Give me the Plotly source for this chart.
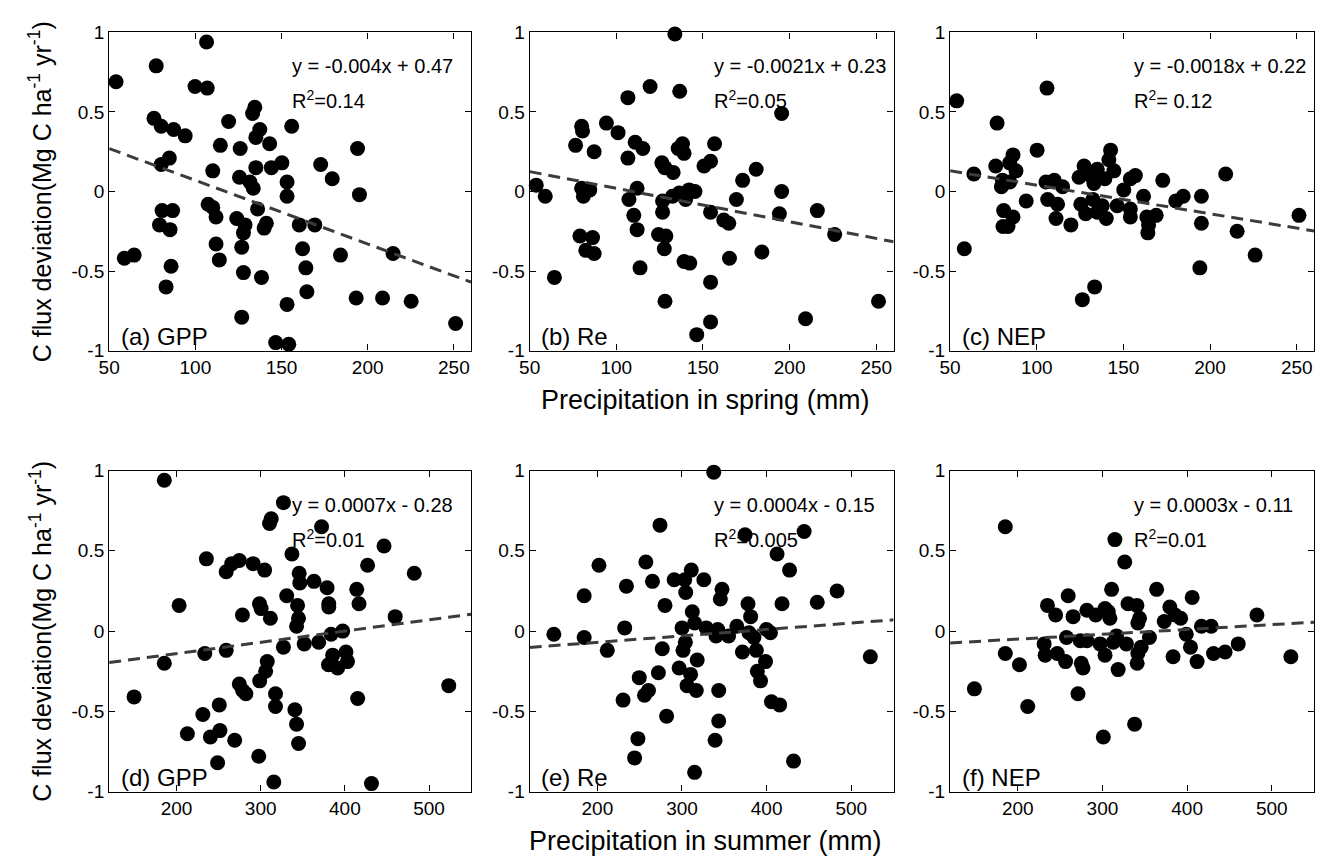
import plotly.graph_objects as go

# ---------------- data ----------------
spring_gpp_x = [54.0, 77.3, 106.5, 99.8, 106.9, 76.0, 80.2, 87.4, 94.1, 119.3, 134.5, 133.2, 137.4, 135.1, 143.1,
                155.9, 114.5, 126.0, 194.1, 84.9, 80.2, 110.1, 135.1, 144.1, 150.2, 172.7, 179.4, 125.6, 131.7,
                133.6, 153.2, 153.2, 195.2, 107.4, 110.1, 112.0, 136.1, 80.7, 86.8, 79.2, 85.3, 124.0, 128.8,
                127.9, 141.2, 139.9, 160.3, 169.3, 112.0, 113.9, 126.9, 162.2, 164.1, 184.2, 214.7, 58.8, 64.5,
                85.9, 83.0, 127.9, 138.4, 164.7, 153.2, 193.3, 208.6, 225.2, 251.0, 126.9, 146.6, 154.2]
spring_gpp_y = [0.69, 0.79, 0.94, 0.66, 0.65, 0.46, 0.41, 0.39, 0.35, 0.44, 0.53, 0.49, 0.39, 0.34, 0.30,
                0.41, 0.29, 0.27, 0.27, 0.21, 0.17, 0.13, 0.15, 0.15, 0.18, 0.17, 0.08, 0.09, 0.06,
                0.02, 0.06, -0.03, -0.02, -0.08, -0.10, -0.16, -0.11, -0.12, -0.12, -0.21, -0.24, -0.17, -0.21,
                -0.26, -0.20, -0.23, -0.21, -0.21, -0.33, -0.43, -0.35, -0.36, -0.48, -0.40, -0.39, -0.42, -0.40,
                -0.47, -0.60, -0.51, -0.54, -0.63, -0.71, -0.67, -0.67, -0.69, -0.83, -0.79, -0.95, -0.96]

spring_re_x = [133.8, 119.5, 136.6, 106.7, 195.4, 80.0, 80.5, 94.3, 101.0, 76.5, 87.2, 110.9, 115.3, 106.7,
               138.2, 135.7, 139.1, 156.7, 126.3, 128.0, 132.8, 150.6, 154.4, 180.7, 172.9, 53.8, 59.0, 80.0,
               84.7, 81.0, 112.0, 107.3, 126.7, 132.4, 136.3, 142.0, 145.4, 140.0, 195.4, 169.3, 216.0, 154.4,
               194.1, 126.7, 110.1, 162.0, 164.9, 226.0, 112.0, 124.4, 128.6, 127.7, 79.0, 86.3, 82.4, 87.2,
               165.3, 184.0, 139.1, 142.4, 113.7, 64.3, 154.4, 128.1, 251.3, 209.2, 154.4, 146.4]
spring_re_y = [0.99, 0.66, 0.63, 0.59, 0.49, 0.41, 0.38, 0.43, 0.37, 0.29, 0.25, 0.31, 0.27, 0.21,
               0.30, 0.27, 0.24, 0.30, 0.18, 0.15, 0.12, 0.16, 0.19, 0.14, 0.07, 0.04, -0.03, 0.02,
               0.01, -0.03, 0.02, -0.05, -0.06, -0.03, -0.01, 0.01, 0.00, -0.05, 0.00, -0.05, -0.12, -0.13,
               -0.14, -0.13, -0.15, -0.18, -0.20, -0.27, -0.24, -0.27, -0.28, -0.36, -0.28, -0.29, -0.37, -0.39,
               -0.42, -0.38, -0.44, -0.45, -0.48, -0.54, -0.57, -0.69, -0.69, -0.80, -0.82, -0.90]

spring_nep_x = [53.8, 105.9, 77.1, 100.2, 142.6, 141.6, 144.5, 63.7, 76.3, 86.3, 84.4, 88.0, 80.2, 79.6, 84.4,
                105.3, 110.1, 114.9, 127.3, 124.4, 134.9, 131.1, 139.3, 133.0, 156.9, 154.0, 172.7, 209.0,
                150.2, 161.6, 184.5, 180.2, 195.0, 93.9, 106.3, 112.0, 125.4, 132.4, 137.8, 146.4, 154.0,
                128.2, 134.9, 140.1, 154.0, 111.1, 119.7, 80.9, 86.3, 80.5, 83.4, 163.5, 168.9, 164.5, 164.1,
                195.0, 215.6, 251.3, 58.2, 226.0, 194.1, 133.4, 126.3]
spring_nep_y = [0.57, 0.65, 0.43, 0.26, 0.26, 0.20, 0.13, 0.11, 0.16, 0.23, 0.18, 0.13, 0.07, 0.03, 0.06,
                0.06, 0.07, 0.03, 0.16, 0.09, 0.14, 0.10, 0.08, 0.05, 0.10, 0.08, 0.07, 0.11,
                0.01, -0.03, -0.03, -0.06, -0.03, -0.06, -0.05, -0.08, -0.08, -0.05, -0.09, -0.09, -0.11,
                -0.14, -0.13, -0.17, -0.16, -0.17, -0.21, -0.12, -0.16, -0.22, -0.22, -0.16, -0.15, -0.21, -0.26,
                -0.20, -0.25, -0.15, -0.36, -0.40, -0.48, -0.60, -0.68]

summer_gpp_x = [185.5, 327.0, 312.5, 310.5, 372.3, 446.5, 337.1, 235.5, 274.6, 265.6, 259.0, 291.0, 304.7,
                427.0, 482.4, 345.7, 346.5, 363.3, 378.9, 414.1, 416.8, 380.9, 380.9, 330.9, 343.8, 203.1,
                298.6, 300.5, 278.3, 311.5, 344.9, 342.6, 459.8, 383.7, 397.4, 351.7, 368.9, 327.0, 259.0,
                233.6, 185.5, 401.3, 385.5, 380.5, 391.4, 403.1, 307.8, 305.9, 298.8, 274.6, 278.5, 282.4,
                317.6, 317.6, 340.6, 342.6, 345.0, 149.6, 415.2, 523.4, 250.8, 231.3, 212.9, 240.2, 251.6,
                269.1, 297.7, 248.8, 315.6, 431.6]
summer_gpp_y = [0.94, 0.80, 0.70, 0.67, 0.65, 0.53, 0.48, 0.45, 0.44, 0.42, 0.37, 0.42, 0.38,
                0.41, 0.36, 0.36, 0.30, 0.31, 0.27, 0.26, 0.17, 0.17, 0.15, 0.22, 0.16, 0.16,
                0.17, 0.14, 0.10, 0.08, 0.08, 0.03, 0.09, -0.02, 0.00, -0.08, -0.07, -0.10, -0.12,
                -0.14, -0.20, -0.13, -0.15, -0.21, -0.23, -0.19, -0.19, -0.25, -0.31, -0.33, -0.37, -0.39,
                -0.39, -0.47, -0.49, -0.58, -0.70, -0.41, -0.42, -0.34, -0.46, -0.52, -0.64, -0.66, -0.62,
                -0.68, -0.78, -0.82, -0.94, -0.95]

summer_re_x = [337.5, 274.0, 374.5, 444.3, 412.3, 427.1, 201.9, 257.3, 311.0, 265.1, 290.8, 303.2, 304.4,
               325.8, 347.3, 345.3, 234.3, 184.4, 279.9, 312.2, 315.0, 300.1, 328.6, 342.2, 340.2, 355.0,
               364.8, 378.0, 381.1, 379.1, 385.0, 399.8, 404.5, 418.2, 459.8, 483.2, 232.3, 148.6, 184.4,
               211.7, 304.0, 301.2, 276.7, 371.4, 387.8, 398.7, 318.0, 522.5, 296.6, 310.2, 272.1, 249.5,
               389.0, 392.8, 306.0, 316.9, 260.4, 255.7, 343.4, 230.4, 405.7, 415.4, 281.8, 343.4, 247.9,
               339.1, 244.0, 431.8, 314.9]
summer_re_y = [0.99, 0.66, 0.60, 0.62, 0.48, 0.38, 0.41, 0.43, 0.38, 0.31, 0.32, 0.32, 0.24,
               0.32, 0.26, 0.20, 0.28, 0.22, 0.16, 0.12, 0.05, 0.02, 0.02, 0.01, -0.03, -0.03,
               0.03, 0.17, 0.09, -0.01, -0.04, 0.01, -0.01, 0.17, 0.18, 0.25, 0.02, -0.02, -0.04,
               -0.12, -0.07, -0.12, -0.11, -0.13, -0.12, -0.19, -0.18, -0.16, -0.23, -0.27, -0.26, -0.29,
               -0.25, -0.31, -0.34, -0.37, -0.37, -0.40, -0.37, -0.43, -0.44, -0.46, -0.53, -0.56, -0.67,
               -0.68, -0.79, -0.81, -0.88]

summer_nep_x = [185.2, 314.7, 326.3, 310.8, 364.0, 406.0, 259.5, 235.0, 244.7, 265.3, 281.6, 292.1, 303.0,
                306.9, 308.8, 330.2, 340.7, 343.8, 341.8, 379.6, 385.8, 392.4, 373.0, 482.5, 416.9, 428.5,
                399.0, 355.5, 257.5, 273.8, 281.6, 231.1, 297.2, 316.6, 312.7, 328.3, 345.7, 404.0, 460.4,
                444.9, 431.2, 185.2, 201.9, 232.3, 246.6, 256.4, 303.0, 341.8, 341.0, 383.4, 411.8, 522.6,
                275.0, 277.0, 318.5, 148.7, 271.1, 211.7, 338.0, 301.0]
summer_nep_y = [0.65, 0.57, 0.43, 0.26, 0.26, 0.21, 0.22, 0.16, 0.10, 0.09, 0.13, 0.10, 0.14,
                0.12, 0.08, 0.17, 0.16, 0.08, 0.05, 0.15, 0.10, 0.08, 0.06, 0.10, 0.03, 0.03,
                -0.02, -0.04, -0.04, -0.06, -0.06, -0.08, -0.08, -0.03, -0.07, -0.08, -0.10, -0.10, -0.08,
                -0.13, -0.14, -0.14, -0.21, -0.15, -0.14, -0.19, -0.15, -0.14, -0.20, -0.16, -0.19, -0.16,
                -0.20, -0.23, -0.24, -0.36, -0.39, -0.47, -0.58, -0.66]

# regression lines (slope, intercept) and labels as printed on the chart
slopes = [-0.004, -0.0021, -0.0018, 0.0007, 0.0004, 0.0003]
intercepts = [0.47, 0.23, 0.22, -0.28, -0.15, -0.11]
eq_texts = ["y = -0.004x + 0.47", "y = -0.0021x + 0.23", "y = -0.0018x + 0.22",
            "y = 0.0007x - 0.28", "y = 0.0004x - 0.15", "y = 0.0003x - 0.11"]
r2_texts = ["R<sup>2</sup>=0.14", "R<sup>2</sup>=0.05", "R<sup>2</sup>= 0.12",
            "R<sup>2</sup>=0.01", "R<sup>2</sup>=0.005", "R<sup>2</sup>=0.01"]
panel_labels = ["(a) GPP", "(b) Re", "(c) NEP", "(d) GPP", "(e) Re", "(f) NEP"]

spring_ticks = [50, 100, 150, 200, 250]
summer_ticks = [200, 300, 400, 500]
y_ticks = [-1, -0.5, 0, 0.5, 1]
y_ticklabels = ["-1", "-0.5", "0", "0.5", "1"]

xs = [spring_gpp_x, spring_re_x, spring_nep_x, summer_gpp_x, summer_re_x, summer_nep_x]
ys = [spring_gpp_y, spring_re_y, spring_nep_y, summer_gpp_y, summer_re_y, summer_nep_y]

# ---------------- layout geometry ----------------
W, H = 1321, 867
FONT = "Liberation Sans, Arial, Helvetica, sans-serif"
col_px = [(99, 464), (523, 890), (947, 1314)]
row_px = [(23, 349), (472, 801)]
x_ranges = [[50, 260], [120, 550]]

fig = go.Figure()
layout = dict(width=W, height=H, margin=dict(l=0, r=0, t=0, b=0),
              paper_bgcolor="white", plot_bgcolor="white", showlegend=False,
              font=dict(family=FONT, size=19, color="black"))
annotations = []

for i in range(6):
    r, c = divmod(i, 3)
    n = i + 1
    xname = "xaxis" if n == 1 else f"xaxis{n}"
    yname = "yaxis" if n == 1 else f"yaxis{n}"
    xref = "x" if n == 1 else f"x{n}"
    yref = "y" if n == 1 else f"y{n}"
    x0, x1 = col_px[c]
    y0, y1 = row_px[r]
    xr = x_ranges[r]
    common = dict(showline=True, linecolor="black", linewidth=1.2, mirror="ticks",
                  ticks="inside", ticklen=6, tickwidth=1, tickcolor="black",
                  showgrid=False, zeroline=False,
                  tickfont=dict(family=FONT, size=19, color="black"))
    layout[xname] = dict(domain=[x0 / W, x1 / W], range=xr, anchor=yref,
                         tickvals=spring_ticks if r == 0 else summer_ticks, **common)
    layout[yname] = dict(domain=[1 - y1 / H, 1 - y0 / H], range=[-1, 1], anchor=xref,
                         tickvals=y_ticks, ticktext=y_ticklabels, **common)

    fig.add_trace(go.Scatter(x=xs[i], y=ys[i], mode="markers", xaxis=xref, yaxis=yref,
                             marker=dict(color="black", size=15, line=dict(width=0)),
                             cliponaxis=False))
    lx = xr
    ly = [slopes[i] * v + intercepts[i] for v in lx]
    fig.add_trace(go.Scatter(x=lx, y=ly, mode="lines", xaxis=xref, yaxis=yref,
                             line=dict(color="#3c3c3c", width=3, dash="12px,7px")))

    dx = f"{xref} domain"
    dy = f"{yref} domain"
    annotations.append(dict(text=eq_texts[i], xref=dx, yref=dy, x=0.5, y=0.893,
                            xanchor="left", yanchor="middle", showarrow=False,
                            font=dict(family=FONT, size=20, color="black")))
    annotations.append(dict(text=r2_texts[i], xref=dx, yref=dy, x=0.5, y=0.788,
                            xanchor="left", yanchor="middle", showarrow=False,
                            font=dict(family=FONT, size=20, color="black")))
    annotations.append(dict(text=panel_labels[i], xref=dx, yref=dy, x=0.027, y=0.045,
                            xanchor="left", yanchor="middle", showarrow=False,
                            font=dict(family=FONT, size=24, color="black")))

# axis titles
ytitle = "C flux deviation(Mg C ha<sup>-1</sup> yr<sup>-1</sup>)"
for (y0, y1) in row_px:
    annotations.append(dict(text=ytitle, xref="paper", yref="paper", x=30 / W,
                            y=1 - (y0 + y1) / 2 / H, textangle=-90, showarrow=False,
                            xanchor="center", yanchor="middle",
                            font=dict(family=FONT, size=25, color="black")))
annotations.append(dict(text="Precipitation in spring (mm)", xref="paper", yref="paper",
                        x=700 / W, y=1 - 400 / H, showarrow=False, xanchor="center",
                        yanchor="middle", font=dict(family=FONT, size=27, color="black")))
annotations.append(dict(text="Precipitation in summer (mm)", xref="paper", yref="paper",
                        x=700 / W, y=1 - 852 / H, showarrow=False, xanchor="center",
                        yanchor="middle", font=dict(family=FONT, size=27, color="black")))

layout["annotations"] = annotations
fig.update_layout(**layout)
fig.write_html("out.html")
